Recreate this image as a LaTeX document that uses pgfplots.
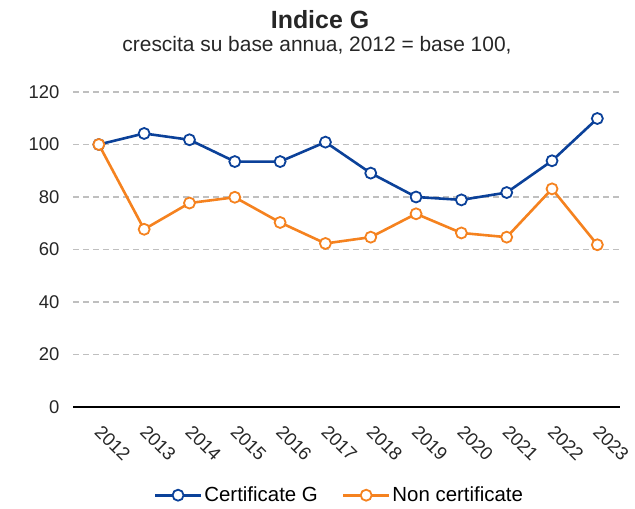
\documentclass[border=0pt]{standalone}
\usepackage{fontspec}
\setmainfont{Liberation Sans}
\usepackage{pgfplots}
\pgfplotsset{compat=1.18}
\definecolor{certblue}{HTML}{0B4199}
\definecolor{nonorange}{HTML}{F5821F}
\definecolor{gridgray}{HTML}{BFBFBF}
\begin{document}
\begin{tikzpicture}
\useasboundingbox (0,0) rectangle (635bp,509bp);
\begin{axis}[
  at={(73bp,102bp)}, anchor=south west,
  scale only axis, width=547bp, height=315bp,
  xmin=-0.57, xmax=11.5, ymin=0, ymax=120,
  xtick={0,...,11},
  xticklabels={2012,2013,2014,2015,2016,2017,2018,2019,2020,2021,2022,2023},
  ytick={0,20,...,120},
  axis x line*=bottom, axis y line*=left,
  x axis line style={black, line width=1.2bp, -},
  y axis line style={draw=none},
  major tick length=0pt,
  ymajorgrids, grid style={gridgray, line width=1.3bp, dash pattern=on 6bp off 4bp},
  tick label style={font=\fontsize{18.5}{22}\selectfont, text=black!85},
  /pgf/number format/assume math mode=true,
  xticklabel style={xshift=4bp, yshift=-12bp, rotate=-45, anchor=north west},
  yticklabel style={xshift=-10bp},
  legend style={at={(0.487,-0.28)}, anchor=center, draw=none, legend columns=2,
    font=\fontsize{20.5}{24}\selectfont,
    /tikz/every even column/.append style={column sep=22bp},
    nodes={inner xsep=2bp}},
  legend cell align=left,
  legend image code/.code={%
    \draw[mark repeat=2, mark phase=2] plot coordinates {(0bp,0bp) (23bp,0bp) (46bp,0bp)};},
]
\addplot[certblue, line width=2.6bp, mark=*, mark size=5.5bp,
  mark options={fill=white, draw=certblue, line width=1.8bp}] coordinates {
  (0,100) (1,104.2) (2,101.8) (3,93.5) (4,93.5) (5,100.9)
  (6,89.1) (7,80.0) (8,78.9) (9,81.7) (10,93.8) (11,109.9)};
\addlegendentry{Certificate G}
\addplot[nonorange, line width=2.6bp, mark=*, mark size=5.5bp,
  mark options={fill=white, draw=nonorange, line width=1.8bp}] coordinates {
  (0,100) (1,67.7) (2,77.7) (3,79.9) (4,70.3) (5,62.3)
  (6,64.7) (7,73.6) (8,66.3) (9,64.7) (10,83.1) (11,61.8)};
\addlegendentry{Non certificate}
\end{axis}
\node[font=\bfseries\fontsize{25}{30}\selectfont, text=black!85] at (320bp,489bp) {Indice G};
\node[font=\fontsize{21}{25}\selectfont, text=black!85] at (317bp,464bp) {crescita su base annua, 2012 = base 100,};
\end{tikzpicture}
\end{document}
